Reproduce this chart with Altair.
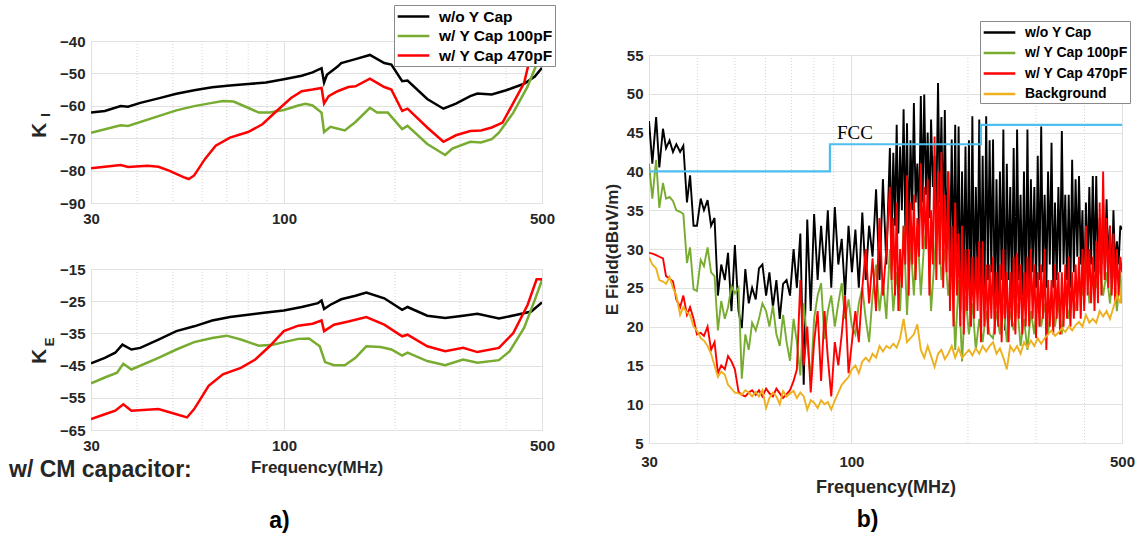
import altair as alt
import pandas as pd

FONT = "Liberation Sans"
INK = "#262626"
GRID = "#e1e1e1"
FRAME = "#6e6e6e"

SERIES = ["w/o Y Cap", "w/ Y Cap 100pF", "w/ Y Cap 470pF", "Background"]
COLORS = ["#000000", "#77AC30", "#FF0000", "#EDB120"]

X_TICKS = [30, 100, 500]
X_MINOR = [40, 50, 60, 70, 80, 90, 200, 300, 400]

# ---------------- K_I ----------------
ki_nocap_f = [30.0, 32.7, 36.1, 37.8, 40.8, 45.7, 51.1, 57.1, 63.9, 71.4, 79.9, 89.4, 99.9,
              111.7, 119.5, 126.4, 128.4, 130.7, 139.7, 142.9, 156.2, 170.9, 186.9, 195.4,
              209.0, 216.1, 244.4, 270.3, 292.3, 319.6, 334.2, 365.5, 399.7, 447.1, 478.1, 500.0]
ki_nocap_v = [-62.1, -61.6, -60.1, -60.3, -59.1, -57.7, -56.3, -55.2, -54.3, -53.7, -53.3, -52.8, -51.8,
              -50.7, -49.7, -48.4, -52.8, -50.4, -47.9, -46.8, -45.6, -44.3, -46.8, -47.3,
              -52.4, -52.2, -57.9, -60.9, -59.3, -57.0, -56.2, -56.5, -55.2, -53.2, -51.0, -48.3]

ki_100_f = [30.0, 36.1, 37.8, 45.7, 51.1, 57.1, 63.9, 68.3, 73.0, 79.9, 85.4, 91.4, 99.9,
            109.3, 114.3, 119.5, 126.4, 128.4, 133.6, 146.1, 156.2, 170.9, 178.7, 191.1,
            209.0, 216.1, 244.4, 273.3, 285.8, 319.6, 341.8, 365.5, 382.2, 418.1, 457.2, 488.9, 500.0]
ki_100_v = [-68.3, -66.0, -66.2, -63.2, -61.4, -60.1, -59.1, -58.5, -58.7, -60.6, -62.1, -62.1, -61.3,
            -59.9, -59.4, -59.9, -62.1, -68.1, -66.5, -67.6, -65.0, -60.6, -62.1, -62.1,
            -67.2, -66.2, -71.8, -75.2, -73.2, -71.1, -71.3, -70.3, -68.3, -62.1, -54.0, -45.8, -41.5]

ki_470_f = [30.0, 32.7, 36.1, 37.8, 42.7, 45.7, 48.8, 53.4, 55.2, 57.1, 61.1, 65.3, 71.4, 79.9,
            87.4, 95.5, 104.5, 111.7, 119.5, 126.4, 128.4, 132.1, 139.7, 149.4, 156.2, 170.9,
            186.9, 195.4, 209.0, 216.1, 244.4, 270.3, 292.3, 319.6, 341.8, 365.5, 390.9, 418.1,
            447.1, 467.5, 483.5, 500.0]
ki_470_v = [-79.3, -78.8, -78.3, -78.9, -78.5, -78.8, -80.0, -82.0, -82.6, -81.5, -76.4, -72.3, -69.8, -68.1,
            -65.7, -61.6, -57.6, -55.5, -55.0, -54.5, -59.3, -57.0, -55.5, -54.2, -54.0, -51.6,
            -54.2, -55.0, -61.6, -60.9, -66.7, -71.1, -69.1, -67.8, -67.6, -66.7, -65.2, -59.1,
            -53.0, -43.8, -37.7, -33.0]

# ---------------- K_E ----------------
ke_nocap_f = [30.0, 32.7, 34.9, 36.5, 38.6, 40.8, 45.7, 51.1, 57.1, 63.9, 71.4, 79.9, 89.4, 99.9,
              111.7, 123.6, 126.4, 128.4, 133.6, 142.9, 156.2, 167.1, 186.9, 209.0, 216.1, 244.4,
              273.3, 305.6, 334.2, 382.2, 427.6, 467.5, 500.0]
ke_nocap_v = [-44.3, -42.6, -41.0, -38.5, -40.0, -39.5, -36.9, -34.3, -32.8, -31.0, -29.9, -29.2, -28.5, -27.9,
              -26.8, -25.6, -24.8, -27.4, -26.1, -24.4, -23.3, -22.3, -24.1, -27.7, -26.8, -29.5,
              -30.2, -29.5, -28.9, -30.4, -29.2, -28.2, -25.4]

ke_100_f = [30.0, 32.7, 35.3, 36.7, 38.6, 45.7, 51.1, 57.1, 63.9, 69.9, 76.4, 85.4, 93.4, 99.9,
            109.3, 116.9, 125.0, 129.2, 136.6, 146.1, 156.2, 167.1, 182.7, 195.4, 209.0, 216.1,
            244.4, 273.3, 305.6, 334.2, 382.2, 408.8, 447.1, 478.1, 500.0]
ke_100_v = [-50.5, -48.7, -47.2, -44.4, -46.2, -42.6, -40.0, -37.7, -36.4, -35.7, -36.9, -38.8, -38.5, -37.7,
            -36.7, -36.6, -39.0, -43.9, -44.9, -44.9, -42.6, -39.0, -39.2, -40.0, -41.9, -41.0,
            -43.6, -44.9, -43.1, -44.1, -43.3, -40.5, -33.3, -24.6, -18.4]

ke_470_f = [30.0, 32.7, 34.9, 36.7, 38.6, 45.7, 51.1, 54.6, 57.1, 62.5, 68.3, 76.4, 83.6, 91.4,
            99.9, 109.3, 119.5, 126.4, 128.4, 136.6, 149.4, 167.1, 186.9, 209.0, 216.1, 244.4,
            273.3, 305.6, 334.2, 382.2, 418.1, 457.2, 483.5, 500.0]
ke_470_v = [-61.6, -60.1, -59.0, -57.0, -59.0, -58.5, -60.1, -61.1, -58.5, -51.3, -47.7, -45.7, -43.1, -39.0,
            -34.3, -32.6, -32.0, -31.0, -34.3, -32.3, -31.3, -29.9, -32.3, -35.9, -35.4, -39.0,
            -40.5, -39.5, -40.8, -39.5, -34.9, -26.1, -18.2, -18.2]

# ---------------- E field sweep (MHz) ----------------
ef_freq = [
    30.0, 30.6, 31.3, 31.9, 32.6, 33.2, 33.9, 34.6, 35.3, 36.1,
    36.8, 37.6, 38.3, 39.1, 39.9, 40.8, 41.6, 42.5, 43.4, 44.3,
    45.2, 46.1, 47.1, 48.0, 49.0, 50.0, 51.1, 52.1, 53.2, 54.3,
    55.4, 56.6, 57.7, 58.9, 60.2, 61.4, 62.7, 64.0, 65.3, 66.6,
    68.0, 69.4, 70.9, 72.3, 73.8, 75.3, 76.9, 78.5, 80.1, 81.8,
    83.5, 85.2, 86.9, 88.7, 90.6, 92.5, 94.4, 96.3, 98.3, 100.3,
    102.4, 104.5, 106.7, 108.9, 111.1, 113.4, 115.8, 118.2, 120.6, 123.1,
    125.7, 128.3, 130.9, 133.6, 136.4, 139.2, 142.1, 145.0, 148.0, 151.1,
    154.2, 157.4, 160.6, 164.0, 167.4, 170.8, 174.3, 177.9, 181.6, 185.4,
    189.2, 193.1, 197.1, 201.2, 205.3, 209.6, 213.9, 218.3, 222.9, 227.5,
    232.2, 237.0, 241.9, 246.9, 252.0, 257.2, 262.5, 267.9, 273.5, 279.1,
    284.9, 290.8, 296.8, 302.9, 309.2, 315.6, 322.1, 328.8, 335.6, 342.5,
    349.6, 356.8, 364.2, 371.7, 379.4, 387.2, 395.2, 403.4, 411.7, 420.3,
    429.0, 437.8, 446.9, 456.1, 465.5, 475.2, 485.0, 495.0, 500.0]

# extra sweep points between 125 and 500 MHz (dense emission band)
ef_freq_mid = [
    127.0, 129.6, 132.2, 135.0, 137.8, 140.6, 143.6, 146.5, 149.5, 152.7,
    155.8, 159.0, 162.3, 165.7, 169.1, 172.6, 176.1, 179.7, 183.5, 187.3,
    191.1, 195.1, 199.1, 203.3, 207.4, 211.8, 216.1, 220.5, 225.2, 229.8,
    234.6, 239.4, 244.4, 249.4, 254.6, 259.8, 265.2, 270.7, 276.3, 282.0,
    287.8, 293.8, 299.9, 306.0, 312.4, 318.8, 325.4, 332.2, 339.0, 346.0,
    353.2, 360.5, 367.9, 375.5, 383.3, 391.2, 399.3, 407.5, 416.0, 424.6,
    433.4, 442.3, 451.5, 460.8, 470.3, 480.1, 490.0]

ef_nocap = [
    46.5, 41, 47, 40.5, 45.5, 43, 44, 42.5, 43.5, 42.5,
    43.3, 36, 39.5, 33, 33, 36.5, 35, 36.3, 33, 34,
    24, 28, 26, 29.5, 22, 30.5, 22, 19.8, 27.4, 23,
    25, 23.5, 27.5, 28, 24, 27, 22.5, 26, 21, 25.5,
    26, 24, 30, 25, 32, 12.5, 33.8, 22, 34.5, 26,
    33, 27, 35, 25, 35.4, 28, 31.3, 24, 33, 27,
    32.5, 25, 34.7, 26, 33, 29, 37.7, 26, 39, 28,
    43, 42.4, 46, 43.2, 48, 46.2, 44, 48.8, 41, 49.7,
    49.9, 45, 46.7, 42, 51.4, 47, 47.9, 40, 44.1, 46,
    45.8, 40, 43.2, 44, 47.1, 38, 46.7, 42, 47.1, 44,
    44.1, 39, 40, 45.4, 41, 38, 43, 45.4, 37, 40,
    45.4, 39, 38, 42, 45.8, 37, 40, 43.7, 36, 38,
    45.2, 37, 37, 41.5, 39, 39.4, 35, 36, 38, 39.4,
    39.4, 34, 36, 36.4, 33, 35, 31, 33, 32.5]
ef_nocap_mid = [
    31, 33, 32, 35, 32, 30, 35, 36, 33, 36,
    37, 34, 38, 35, 36, 32, 30, 28, 27, 25,
    22, 25, 24, 20, 24, 26, 24, 22, 26, 27,
    21, 24, 26, 19.5, 26, 24, 22, 26, 24, 22,
    24, 27, 25, 26, 27, 25, 28, 25, 26, 27,
    28, 26, 25, 27, 29, 28, 23, 27, 28, 27,
    27, 28, 26, 28, 25, 27, 28]

ef_100 = [
    41, 36.5, 41.5, 35.3, 38.5, 36.5, 36.7, 36.2, 35, 34.8,
    34.5, 28.2, 30.2, 24.8, 24.6, 28.6, 27.8, 30.2, 27, 26.5,
    19.5, 23.3, 21, 22.5, 25.2, 24.3, 25, 13.3, 19, 17,
    20.5, 19.5, 21, 23, 22, 20, 22.7, 19, 17.5, 21.5,
    18, 15.6, 21, 18, 13.7, 23, 18, 13, 21, 24,
    25.6, 18.4, 22, 24, 20, 23, 25.6, 21, 23.5, 20,
    19, 23, 25, 21, 18, 24, 28, 22, 26, 21,
    30, 22, 27, 22, 33, 21.5, 31, 24, 33, 24,
    31, 33.5, 22, 29, 35, 26, 30, 24, 29, 17,
    26, 15.5, 24, 19, 23, 17, 21, 18, 22, 19,
    18.5, 22, 19, 23, 18, 22, 19.5, 23, 17.5, 21,
    17, 22, 19, 24, 20, 23, 19, 24, 20, 23,
    19, 24, 21, 25, 22, 26, 24, 29.5, 23, 27,
    25, 28, 24, 27, 23, 28, 22, 27, 23]

ef_470 = [
    29.5, 29.4, 29.2, 29, 28.8, 26.5, 26.2, 25.8, 23.5, 22.5,
    24, 21.5, 22.5, 21, 19, 19.2, 18.8, 20, 17, 18,
    14, 15, 14.5, 16.2, 15.5, 14.5, 11.6, 11.2, 11, 11.5,
    11.8, 11.2, 11.8, 11, 12, 11.4, 11, 12, 11.4, 10.8,
    11.3, 11.8, 13, 14.5, 26, 15, 20, 11.5, 18, 22,
    13, 22, 16, 11, 18, 15, 19, 24, 14, 18,
    22, 18, 25, 30, 23, 28.8, 22, 34, 24, 30,
    38, 34, 36, 30, 33, 39.5, 36, 37, 34, 41,
    38, 39, 35, 44.5, 40, 42.5, 37, 40, 33, 36,
    32, 33, 30, 30, 29, 29, 31, 31, 28, 28,
    29, 27, 28, 30, 27, 27, 29, 29.5, 28, 27,
    29, 30, 28, 27, 28, 30, 26, 26, 28, 27,
    27, 28, 29, 27, 28, 29, 30, 33, 30, 29,
    31, 36, 40, 34, 33, 32, 30, 29, 27]
ef_470_mid = [
    26, 24, 22, 25, 28, 24, 28, 26, 29, 30,
    30, 24, 28, 26, 28, 25, 27, 22, 20, 24,
    20, 19, 22, 20, 21, 22, 18, 20, 19, 21,
    19, 20, 18, 21, 18, 20, 19, 21, 19, 20,
    20, 21, 18.5, 20, 21, 17, 20, 19, 21, 19,
    20, 21, 20, 21, 22, 21, 22, 24, 23, 22,
    23, 24, 26, 25, 24, 23, 24]

ef_background = [
    29, 28, 27.5, 26, 25.8, 25.5, 26.4, 25, 24, 21.5,
    22.5, 21.8, 21.5, 20, 19.5, 18.5, 18.2, 17.5, 16.5, 15,
    13.5, 14.2, 13.8, 12.5, 12, 11.5, 11.4, 11.2, 11.8, 11.5,
    11, 11.6, 11, 11.8, 9.5, 10.8, 11.5, 11, 10, 11.7,
    11, 11.4, 11.7, 10.8, 11.5, 11, 9.3, 10.5, 10.2, 9.5,
    10.5, 10, 10.3, 9.3, 10.5, 11.5, 12.5, 13, 13.5, 14.5,
    15, 14, 15.5, 16, 15.5, 16.5, 16, 17.5, 16.8, 17.5,
    17.2, 17.8, 17.3, 18.5, 21, 18, 18.5, 19, 20.3, 17,
    16, 17.5, 16.2, 14.8, 16.5, 17, 15.8, 16.5, 17.5, 16,
    17.2, 16, 16.5, 17, 16.3, 17.2, 16.5, 17.5, 16.8, 17.5,
    18, 16.5, 17.2, 16, 14.5, 17.5, 16.8, 17.5, 16.5, 18,
    17.3, 18.2, 17.5, 18.5, 17.8, 18.5, 19, 19.5, 18.8, 19.2,
    19.8, 19.3, 20, 19.5, 20.2, 20.6, 20, 21.5, 20.5, 21,
    20.5, 22, 21.3, 22, 21, 22.5, 24, 23, 26]

# FCC class B limit (step-after)
fcc_freq = [30, 88, 216, 500]
fcc_limit = [40, 43.5, 46, 46]
fcc_label = ["FCC"]
fcc_label_freq = [91.8]
fcc_label_value = [44.9]


def curve(freqs, values, name):
    df = pd.DataFrame({"freq": freqs, "value": values, "series": name})
    return df.sort_values("freq").reset_index(drop=True)


x_scale = alt.Scale(type="log", domain=[30, 500], nice=False)


def x_axis(title, label_pad, title_pad=10, title_size=17):
    return alt.Axis(values=X_TICKS, format="d", grid=True, gridColor=GRID, ticks=False,
                    domain=False, labelFont=FONT, labelFontSize=15, labelFontWeight="bold",
                    labelColor=INK, labelPadding=label_pad, labelFlush=False,
                    labelOverlap=False, title=title, titleFont=FONT, titleFontSize=title_size,
                    titleFontWeight="bold", titleColor=INK, titlePadding=title_pad)


def y_axis(values, title, title_pad, title_size, title_y=None):
    kw = dict(values=values, grid=True, gridColor=GRID, ticks=False, domain=False,
              labelFont=FONT, labelFontSize=15, labelFontWeight="bold", labelColor=INK,
              labelPadding=6, labelOverlap=False, title=title, titleFont=FONT,
              titleFontSize=title_size, titleFontWeight="bold", titleColor=INK,
              titlePadding=title_pad)
    if title_y is not None:
        kw["titleY"] = title_y
    return alt.Axis(**kw)


# short horizontal stroke used as the legend swatch
SWATCH = "M-2,0H2"


def legend_box(x, y, font_size, row_pad):
    return alt.Legend(orient="none", legendX=x, legendY=y, title=None, direction="vertical",
                      symbolType=SWATCH, symbolSize=250, symbolStrokeWidth=2.5,
                      symbolOffset=8, labelFont=FONT, labelFontSize=font_size,
                      labelFontWeight="bold", labelColor="#000000", labelOffset=16,
                      labelLimit=300, strokeColor="#8a8a8a", fillColor="white",
                      padding=2, rowPadding=row_pad)


def minor_grid():
    return alt.Chart(pd.DataFrame({"freq": X_MINOR})).mark_rule(
        color="#d4d4d4", strokeDash=[1, 2], strokeWidth=1
    ).encode(x=alt.X("freq:Q", scale=x_scale))


def series_layers(curves, names, colors, y_scale, xa, ya, legend, width):
    layers = [minor_grid()]
    for df in curves:
        layers.append(
            alt.Chart(df).mark_line(strokeWidth=width, clip=True).encode(
                x=alt.X("freq:Q", scale=x_scale, axis=xa),
                y=alt.Y("value:Q", scale=y_scale, axis=ya),
                color=alt.Color("series:N", scale=alt.Scale(domain=names, range=colors),
                                legend=legend),
            )
        )
    return layers


def label_text(text, x, y, size, angle=0, align="center"):
    return alt.Chart(pd.DataFrame({"t": [text]})).mark_text(
        angle=angle, fontSize=size, fontWeight="bold", font=FONT, color=INK,
        align=align, baseline="middle"
    ).encode(text="t:N", x=alt.value(x), y=alt.value(y))


NAMES3 = SERIES[:3]
COLORS3 = COLORS[:3]

# K_I panel
ki_layers = series_layers(
    [curve(ki_nocap_f, ki_nocap_v, NAMES3[0]),
     curve(ki_100_f, ki_100_v, NAMES3[1]),
     curve(ki_470_f, ki_470_v, NAMES3[2])],
    NAMES3, COLORS3, alt.Scale(domain=[-90, -40], nice=False),
    x_axis(None, 8),
    y_axis([-90, -80, -70, -60, -50, -40], "K", 10, 21, 89),
    legend_box(303, -36, 15.5, 1.5), 2.5)
ki_chart = alt.layer(*ki_layers, label_text("I", -45, 74, 13, angle=270)).properties(
    width=451, height=162)

# K_E panel
ke_layers = series_layers(
    [curve(ke_nocap_f, ke_nocap_v, NAMES3[0]),
     curve(ke_100_f, ke_100_v, NAMES3[1]),
     curve(ke_470_f, ke_470_v, NAMES3[2])],
    NAMES3, COLORS3, alt.Scale(domain=[-65, -15], nice=False),
    x_axis("Frequency(MHz)", 8, 6, 17),
    y_axis([-65, -55, -45, -35, -25, -15], "K", 10, 21, 87),
    None, 2.5)
ke_chart = alt.layer(
    *ke_layers,
    label_text("E", -41, 73, 13, angle=270),
    label_text("w/ CM capacitor:", -82, 201, 23, align="left"),
).properties(
    width=451, height=161,
    title=alt.TitleParams("a)", orient="bottom", anchor="middle", frame="group", offset=28,
                          dx=-37, fontSize=23, font=FONT, fontWeight="bold", color="#000000",
                          baseline="top"))

# E field panel
ef_xa = x_axis("Frequency(MHz)", 11, 9, 18)
ef_ya = y_axis(list(range(5, 56, 5)), "E Field(dBuV/m)", 5, 17)
ef_ys = alt.Scale(domain=[5, 55], nice=False)
ef_layers = series_layers(
    [curve(ef_freq + ef_freq_mid, ef_nocap + ef_nocap_mid, SERIES[0]),
     curve(ef_freq, ef_100, SERIES[1]),
     curve(ef_freq + ef_freq_mid, ef_470 + ef_470_mid, SERIES[2]),
     curve(ef_freq, ef_background, SERIES[3])],
    SERIES, COLORS, ef_ys, ef_xa, ef_ya, legend_box(331, -34, 14, 3.5), 1.9)

fcc_line = alt.Chart(pd.DataFrame({"freq": fcc_freq, "value": fcc_limit})).mark_line(
    color="#4DBEEE", strokeWidth=2.2, interpolate="step-after"
).encode(x=alt.X("freq:Q", scale=x_scale, axis=ef_xa),
         y=alt.Y("value:Q", scale=ef_ys, axis=ef_ya))

fcc_text = alt.Chart(pd.DataFrame({"freq": fcc_label_freq, "value": fcc_label_value,
                                   "label": fcc_label})).mark_text(
    font="Liberation Serif", fontSize=19, color="#000000", align="left", baseline="middle"
).encode(x=alt.X("freq:Q", scale=x_scale, axis=ef_xa),
         y=alt.Y("value:Q", scale=ef_ys, axis=ef_ya), text="label:N")

ef_chart = alt.layer(*ef_layers, fcc_line, fcc_text).properties(
    width=473, height=388,
    title=alt.TitleParams("b)", orient="bottom", anchor="middle", frame="group", offset=13,
                          dx=-18, fontSize=23, font=FONT, fontWeight="bold", color="#000000",
                          baseline="top"))

spacer = alt.Chart(pd.DataFrame({"v": [0]})).mark_point(opacity=0).encode(
    x=alt.value(0), y=alt.value(0)
).properties(width=473, height=14, view=alt.ViewBackground(strokeOpacity=0))

left_col = alt.vconcat(ki_chart, ke_chart, spacing=66, bounds="flush").resolve_scale(
    color="independent").resolve_legend(color="independent")
right_col = alt.vconcat(spacer, ef_chart, spacing=0, bounds="flush").resolve_scale(
    color="independent").resolve_legend(color="independent")

chart = alt.hconcat(left_col, right_col, spacing=46).resolve_scale(
    color="independent", y="independent", x="independent"
).resolve_legend(color="independent").properties(
    padding={"left": 8, "top": 4, "right": 0, "bottom": 0},
).configure_view(stroke=FRAME, strokeWidth=1).configure(background="white")

chart.save("out.html", embed_options={"renderer": "svg", "actions": False})
